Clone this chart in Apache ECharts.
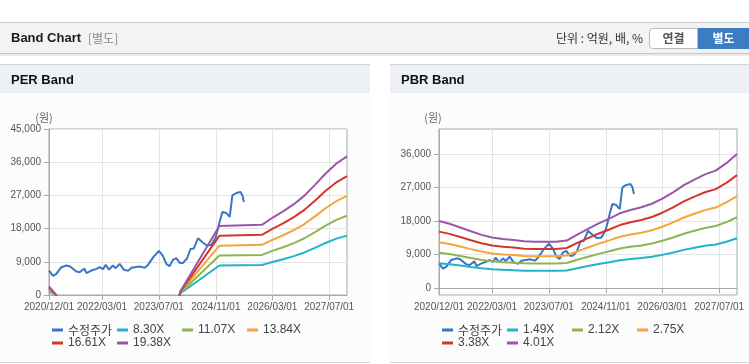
<!DOCTYPE html>
<html><head><meta charset="utf-8">
<script src="https://cdn.jsdelivr.net/npm/echarts@6/dist/echarts.min.js"></script>
<style>html,body{margin:0;padding:0;background:#fff}#c{width:749px;height:364px}</style>
</head><body><div id="c"></div>
<script>
// ---------- data ----------
const xTickDates = ['2020-12-01','2022-03-01','2023-07-01','2024-11-01','2026-03-01','2027-07-01'];
const perYTicks = [0, 9000, 18000, 27000, 36000, 45000];
const pbrYTicks = [0, 9000, 18000, 27000, 36000];

const priceName = '수정주가';
const priceDates = ['2020-12-01','2021-01-04','2021-02-02','2021-03-17','2021-04-29','2021-05-28','2021-07-24','2021-08-21','2021-10-01','2021-10-18','2021-11-30','2022-01-12','2022-02-09','2022-03-09','2022-04-01','2022-04-30','2022-06-03','2022-06-26','2022-07-30','2022-09-03','2022-10-10','2022-11-08','2023-01-18','2023-03-02','2023-03-30','2023-05-18','2023-07-02','2023-08-05','2023-09-03','2023-10-01','2023-10-30','2023-11-28','2023-12-27','2024-01-24','2024-02-28','2024-03-28','2024-04-25','2024-06-01','2024-07-14','2024-08-17','2024-09-24','2024-10-31','2024-12-04','2024-12-27','2025-01-30','2025-02-28','2025-03-23','2025-04-26','2025-05-31','2025-06-17','2025-06-30'];
const priceValues = [6600,5200,5740,7540,7980,7800,6360,6180,7170,5920,6630,7070,7540,6990,8170,6900,7980,7270,8430,6900,6540,7360,7720,7360,8160,10400,11940,10600,8430,7800,9520,10000,8700,8700,9900,12470,12600,15360,14180,13400,13560,15630,19840,22530,22260,21180,27030,27650,27920,27030,25230];

const perNames = ['8.30X','11.07X','13.84X','16.61X','19.38X'];
const perDates = ['2020-12-01','2021-02-01','2021-03-01','2023-12-01','2024-01-01','2024-12-01','2025-12-01','2026-03-01','2026-06-01','2026-09-01','2026-12-01','2027-03-01','2027-06-01','2027-09-01','2027-12-01'];
const per830  = [996,-17,-1660,-1660,415,8010,8151,8964,9711,10541,11537,12782,14110,15272,16102];
const per1107 = [1328,-22,-2214,-2214,554,10683,10871,11956,12952,14059,15387,17048,18819,20369,21476];
const per1384 = [1661,-28,-2768,-2768,692,13356,13591,14947,16193,17577,19238,21314,23528,25466,26850];
const per1661 = [1993,-33,-3322,-3322,831,16029,16311,17939,19434,21095,23088,25579,28237,30562,32223];
const per1938 = [2326,-39,-3876,-3876,969,18702,19031,20930,22675,24613,26938,29845,32946,35659,37597];

const pbrNames = ['1.49X','2.12X','2.75X','3.38X','4.01X'];
const pbrDates = ['2020-12-01','2021-03-01','2021-06-01','2021-09-01','2021-12-01','2022-03-01','2022-06-01','2022-09-01','2022-12-01','2023-03-01','2023-06-01','2023-09-01','2023-12-01','2024-03-01','2024-06-01','2024-09-01','2024-12-01','2025-03-01','2025-06-01','2025-09-01','2025-12-01','2026-03-01','2026-06-01','2026-09-01','2026-12-01','2027-03-01','2027-06-01','2027-09-01','2027-12-01'];
const pbr149 = [6675,6407,6035,5662,5304,5036,4887,4798,4664,4619,4619,4619,4738,5334,5900,6452,6929,7450,7778,8046,8404,8910,9536,10251,10803,11324,11697,12442,13350];
const pbr212 = [9498,9116,8586,8056,7547,7166,6954,6826,6636,6572,6572,6572,6742,7590,8395,9180,9858,10600,11066,11448,11957,12678,13568,14586,15370,16112,16642,17702,18995];
const pbr275 = [12320,11825,11138,10450,9790,9295,9020,8855,8608,8525,8525,8525,8745,9845,10890,11908,12788,13750,14355,14850,15510,16445,17600,18920,19938,20900,21588,22963,24640];
const pbr338 = [15142,14534,13689,12844,12033,11424,11086,10884,10579,10478,10478,10478,10748,12100,13385,14635,15717,16900,17644,18252,19063,20212,21632,23254,24505,25688,26533,28223,30285];
const pbr401 = [17965,17243,16241,15238,14276,13554,13153,12912,12551,12431,12431,12431,12752,14356,15880,17363,18647,20050,20932,21654,22616,23980,25664,27589,29073,30476,31479,33484,35930];

// ---------- styling ----------
const SANS = "'Liberation Sans','Noto Sans CJK KR',sans-serif";
const KR = "'Noto Sans CJK KR','Liberation Sans',sans-serif";
const priceColor = '#3a76c4';
const bandColors = ['#22b3c7','#8cb650','#f5a53a','#d3362d','#9a57a5'];
const axisGray = '#a9a9a9';

function zip(d, v) { return d.map((x, i) => [x, v[i]]); }

function xAxisCfg(gi) {
  return {
    type: 'time', gridIndex: gi, min: '2020-12-01', max: '2027-12-01',
    axisLine: { show: true, lineStyle: { color: axisGray, width: 1 } },
    axisTick: { show: true, length: 5, lineStyle: { color: axisGray }, customValues: xTickDates },
    axisLabel: { customValues: xTickDates, formatter: '{yyyy}/{MM}/{dd}', color: '#555', fontSize: 10, fontFamily: SANS, margin: 7, hideOverlap: false },
    splitLine: { show: true, lineStyle: { color: '#e4e4e4', width: 1 } }
  };
}
function yAxisCfg(gi, min, max, ticks) {
  return {
    type: 'value', gridIndex: gi, min: min, max: max,
    axisLine: { show: true, lineStyle: { color: axisGray } },
    axisTick: { show: true, length: 5, lineStyle: { color: axisGray }, customValues: ticks },
    axisLabel: { customValues: ticks, color: '#555', fontSize: 10, fontFamily: SANS, margin: 8,
      formatter: v => Number(v).toLocaleString('en-US') },
    splitLine: { show: true, lineStyle: { color: '#e4e4e4', width: 1 } }
  };
}
function lineSeries(name, data, color, gi) {
  return { type: 'line', name: name, xAxisIndex: gi, yAxisIndex: gi, data: data,
    showSymbol: false, symbol: 'none', clip: true, color: color,
    lineStyle: { width: 2, color: color }, emphasis: { disabled: true } };
}

const series = [];
series.push(lineSeries(priceName, zip(priceDates, priceValues), priceColor, 0));
[per830, per1107, per1384, per1661, per1938].forEach((arr, i) =>
  series.push(lineSeries(perNames[i], zip(perDates, arr), bandColors[i], 0)));
series.push(lineSeries(priceName, zip(priceDates, priceValues), priceColor, 1));
[pbr149, pbr212, pbr275, pbr338, pbr401].forEach((arr, i) =>
  series.push(lineSeries(pbrNames[i], zip(pbrDates, arr), bandColors[i], 1)));

// legends: fixed columns
function legendItems(names, x0) {
  const all = [priceName].concat(names);
  const colX = [0, 65, 130, 195];
  return all.map((n, i) => ({
    show: true, data: [n], selectedMode: false,
    left: x0 + colX[i % 4], top: i < 4 ? 324 : 337,
    icon: 'rect', itemWidth: 11, itemHeight: 3, padding: 0,
    textStyle: { color: '#444', fontSize: i === 0 ? 12 : 12, fontFamily: i === 0 ? KR : SANS }
  }));
}
const legends = legendItems(perNames, 52).concat(legendItems(pbrNames, 442));

const graphics = [
  // page header
  { type: 'rect', shape: { x: 0, y: 22, width: 749, height: 1 }, style: { fill: '#c8c8c8' }, silent: true },
  { type: 'rect', shape: { x: 0, y: 23, width: 749, height: 30 }, style: { fill: '#f3f3f3' }, silent: true },
  { type: 'rect', shape: { x: 0, y: 53, width: 749, height: 1 }, style: { fill: '#c4c4c4' }, silent: true },
  { type: 'rect', shape: { x: 0, y: 54, width: 749, height: 2 }, style: { fill: '#ececec' }, silent: true },
  { type: 'text', x: 11, y: 38, style: { text: 'Band Chart', font: "bold 13px " + SANS, fill: '#1a1a1a', verticalAlign: 'middle' } },
  { type: 'text', x: 88, y: 38, style: { text: '[별도]', font: "12px " + KR, fill: '#8a8a8a', verticalAlign: 'middle' } },
  { type: 'text', x: 643, y: 38, style: { text: '단위 : 억원, 배, %', font: "12px " + KR, fill: '#333', align: 'right', verticalAlign: 'middle' } },
  { type: 'rect', shape: { x: 649.5, y: 28.5, width: 48, height: 20, r: [3, 0, 0, 3] }, style: { fill: '#fff', stroke: '#b9b9b9', lineWidth: 1 } },
  { type: 'text', x: 673.5, y: 38.5, style: { text: '연결', font: "bold 12px " + KR, fill: '#555', align: 'center', verticalAlign: 'middle' } },
  { type: 'rect', shape: { x: 698, y: 28, width: 51, height: 21 }, style: { fill: '#3b7cc2' } },
  { type: 'text', x: 723.5, y: 38.5, style: { text: '별도', font: "bold 12px " + KR, fill: '#fff', align: 'center', verticalAlign: 'middle' } },
  // PER panel
  { type: 'rect', shape: { x: 0, y: 64, width: 370, height: 1 }, style: { fill: '#d4d4d4' }, silent: true },
  { type: 'rect', shape: { x: 0, y: 65, width: 370, height: 28 }, style: { fill: '#edf1f6' }, silent: true },
  { type: 'rect', shape: { x: 0, y: 93, width: 370, height: 269 }, style: { fill: '#fcfcfc' }, silent: true },
  { type: 'rect', shape: { x: 0, y: 362, width: 370, height: 1 }, style: { fill: '#d4d4d4' }, silent: true },
  { type: 'text', x: 11, y: 80, style: { text: 'PER Band', font: "bold 13px " + SANS, fill: '#111', verticalAlign: 'middle' } },
  { type: 'text', x: 44, y: 118, style: { text: '(원)', font: "11px " + KR, fill: '#666', align: 'center', verticalAlign: 'middle' } },
  // PBR panel
  { type: 'rect', shape: { x: 390, y: 64, width: 359, height: 1 }, style: { fill: '#d4d4d4' }, silent: true },
  { type: 'rect', shape: { x: 390, y: 65, width: 359, height: 28 }, style: { fill: '#edf1f6' }, silent: true },
  { type: 'rect', shape: { x: 390, y: 93, width: 359, height: 269 }, style: { fill: '#fcfcfc' }, silent: true },
  { type: 'rect', shape: { x: 390, y: 362, width: 359, height: 1 }, style: { fill: '#d4d4d4' }, silent: true },
  { type: 'text', x: 401, y: 80, style: { text: 'PBR Band', font: "bold 13px " + SANS, fill: '#111', verticalAlign: 'middle' } },
  { type: 'text', x: 433, y: 118, style: { text: '(원)', font: "11px " + KR, fill: '#666', align: 'center', verticalAlign: 'middle' } }
].map(g => Object.assign({ z: -10, zlevel: 0 }, g, g.type === 'text' ? { z: 10 } : {}));

const chart = echarts.init(document.getElementById('c'), null, { renderer: 'canvas', width: 749, height: 364 });
chart.setOption({
  animation: false,
  backgroundColor: '#fff',
  graphic: graphics,
  grid: [
    { left: 49, top: 129, width: 298, height: 166, show: true, borderColor: axisGray, borderWidth: 1, backgroundColor: '#fff', z: 0 },
    { left: 439, top: 129, width: 298, height: 166, show: true, borderColor: axisGray, borderWidth: 1, backgroundColor: '#fff', z: 0 }
  ],
  xAxis: [xAxisCfg(0), xAxisCfg(1)],
  yAxis: [yAxisCfg(0, 0, 45000, perYTicks), yAxisCfg(1, -1850, 42650, pbrYTicks)],
  legend: legends,
  series: series
});
</script></body></html>
